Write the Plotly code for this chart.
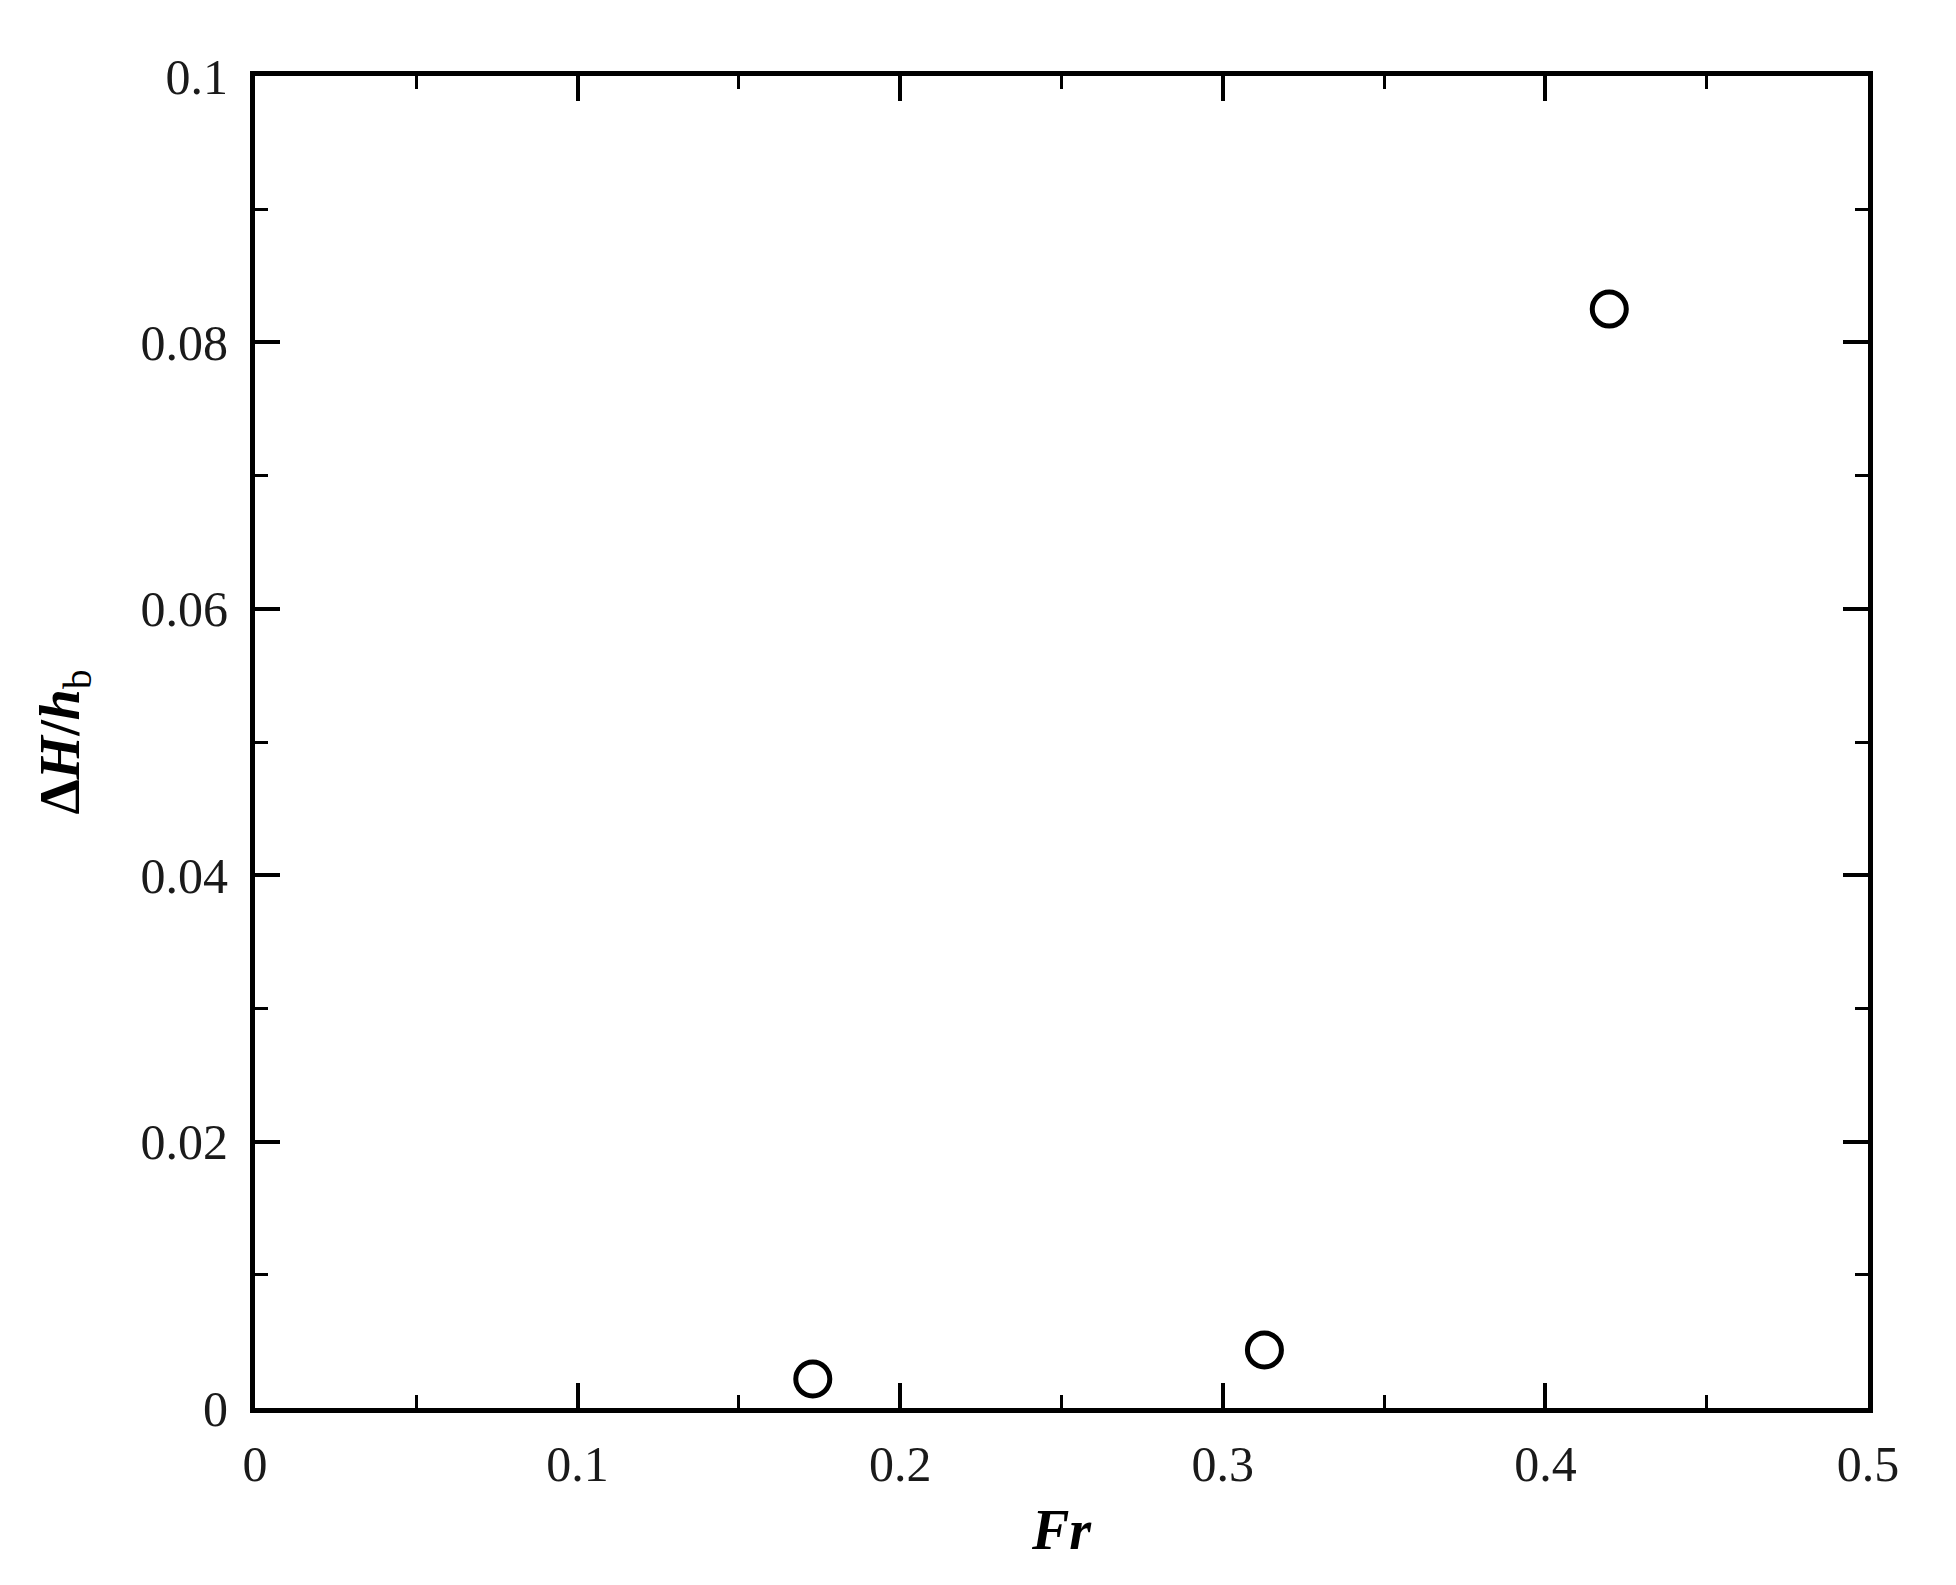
import plotly.graph_objects as go

fr = [0.1729, 0.3129, 0.4198]
dh_hb = [0.00218, 0.00435, 0.0825]

x_ticks = [0, 0.1, 0.2, 0.3, 0.4, 0.5]
x_ticklabels = ["0", "0.1", "0.2", "0.3", "0.4", "0.5"]
y_ticks = [0, 0.02, 0.04, 0.06, 0.08, 0.1]
y_ticklabels = ["0", "0.02", "0.04", "0.06", "0.08", "0.1"]

FONT = "Liberation Serif"

fig = go.Figure()
fig.add_trace(go.Scatter(
    x=fr, y=dh_hb, mode="markers",
    marker=dict(symbol="circle-open", size=34, color="black", line=dict(width=5, color="black")),
    showlegend=False,
))

axis_common = dict(
    showline=True, linewidth=5, linecolor="black", mirror="allticks",
    ticks="inside", ticklen=25, tickwidth=4, tickcolor="black",
    showgrid=False, zeroline=False,
    tickfont=dict(family=FONT, size=50, color="#1a1a1a"),
)

fig.update_xaxes(
    range=[0, 0.5], tickvals=x_ticks, ticktext=x_ticklabels,
    minor=dict(ticks="inside", ticklen=13, tickwidth=2.5, tickcolor="black", dtick=0.05, showgrid=False),
    ticklabelstandoff=8,
    title=dict(text="<b><i>Fr</i></b>", font=dict(family=FONT, size=56, color="black"), standoff=20),
    **axis_common,
)
fig.update_yaxes(
    range=[0, 0.1], tickvals=y_ticks, ticktext=y_ticklabels,
    minor=dict(ticks="inside", ticklen=13, tickwidth=2.5, tickcolor="black", dtick=0.01, showgrid=False),
    ticklabelstandoff=12,
    title=dict(text="<b>Δ<i>H</i>/<i>h</i></b><sub>b</sub>",
               font=dict(family=FONT, size=56, color="black"), standoff=44),
    **axis_common,
)

fig.update_layout(
    width=1956, height=1585,
    margin=dict(l=247, r=96, t=68, b=185, autoexpand=False),
    plot_bgcolor="white", paper_bgcolor="white",
)

fig.write_html("out.html")
